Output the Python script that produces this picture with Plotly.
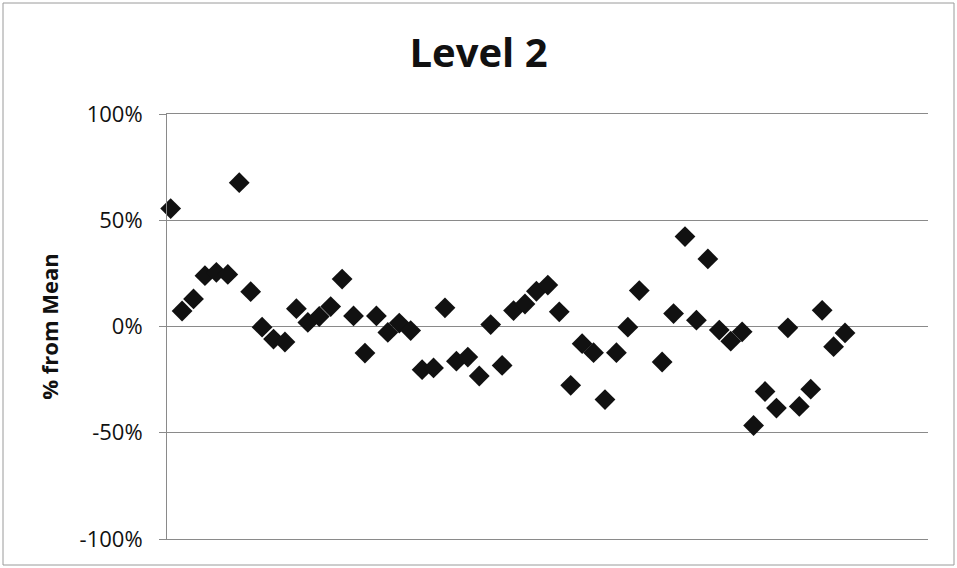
import plotly.graph_objects as go

# Data (fraction of mean); None = no point
point_index = list(range(60))
pct_from_mean = [
    0.555, 0.073, 0.130, 0.239, 0.255, 0.245, 0.677, 0.164, -0.003, -0.059,
    -0.073, 0.084, 0.019, 0.047, 0.094, 0.223, 0.050, -0.125, 0.050, -0.028,
    0.016, -0.019, -0.203, -0.195, 0.088, -0.163, -0.144, -0.233, 0.009, -0.183,
    0.075, 0.106, 0.166, 0.195, 0.069, -0.277, -0.081, -0.123, -0.344, -0.123,
    -0.003, 0.169, None, -0.167, 0.061, 0.423, 0.030, 0.318, -0.017, -0.069,
    -0.025, -0.466, -0.306, -0.384, -0.006, -0.376, -0.295, 0.076, -0.095, -0.030,
]
tick_vals = [-1.0, -0.5, 0.0, 0.5, 1.0]
tick_text = ["-100%", "-50%", "0%", "50%", "100%"]

xs = [i for i, v in zip(point_index, pct_from_mean) if v is not None]
ys = [v for v in pct_from_mean if v is not None]

fig = go.Figure()
fig.add_trace(go.Scatter(
    x=xs, y=ys, mode="markers", cliponaxis=False,
    marker=dict(symbol="diamond", size=16, color="#111111",
                line=dict(width=0)),
    showlegend=False,
))

W, H = 957, 568
L, R, T, B = 167, 29, 114, 29
pw, ph = W - L - R, H - T - B
GRID = "#8a8a8a"

fig.update_layout(
    width=W, height=H,
    margin=dict(l=L, r=R, t=T, b=B),
    paper_bgcolor="white", plot_bgcolor="white",
    font=dict(family="Open Sans, sans-serif", color="#111111"),
    title=dict(text="<b>Level 2</b>", x=0.5, xref="container", xanchor="center",
               y=1 - 53 / H, yref="container", yanchor="middle",
               font=dict(size=40, family="Open Sans, sans-serif", color="#111111")),
    xaxis=dict(range=[-0.32, 66.26], showgrid=False, zeroline=False,
               showticklabels=False, ticks="", showline=True, mirror=True,
               linecolor=GRID, linewidth=1, fixedrange=True),
    yaxis=dict(range=[-1, 1], tickvals=tick_vals, ticktext=tick_text,
               showgrid=True, gridcolor=GRID, gridwidth=1,
               zeroline=False, showline=True, linecolor=GRID, linewidth=1,
               ticks="outside", ticklen=7, tickcolor=GRID,
               ticklabelstandoff=12, fixedrange=True,
               tickfont=dict(size=22, color="#111111"),
               title=dict(text="<b>% from Mean</b>", standoff=14,
                          font=dict(size=22, color="#111111"))),
    shapes=[dict(type="rect", xref="paper", yref="paper",
                 x0=(3 - L) / pw, x1=(954 - L) / pw,
                 y0=(H - B - 565) / ph, y1=(H - B - 3) / ph,
                 line=dict(color="#9a9a9a", width=1), layer="below")],
)

fig.write_html("out.html",
               config={"displayModeBar": False},
               post_script="document.body.style.margin='0';document.body.style.overflow='hidden';")
